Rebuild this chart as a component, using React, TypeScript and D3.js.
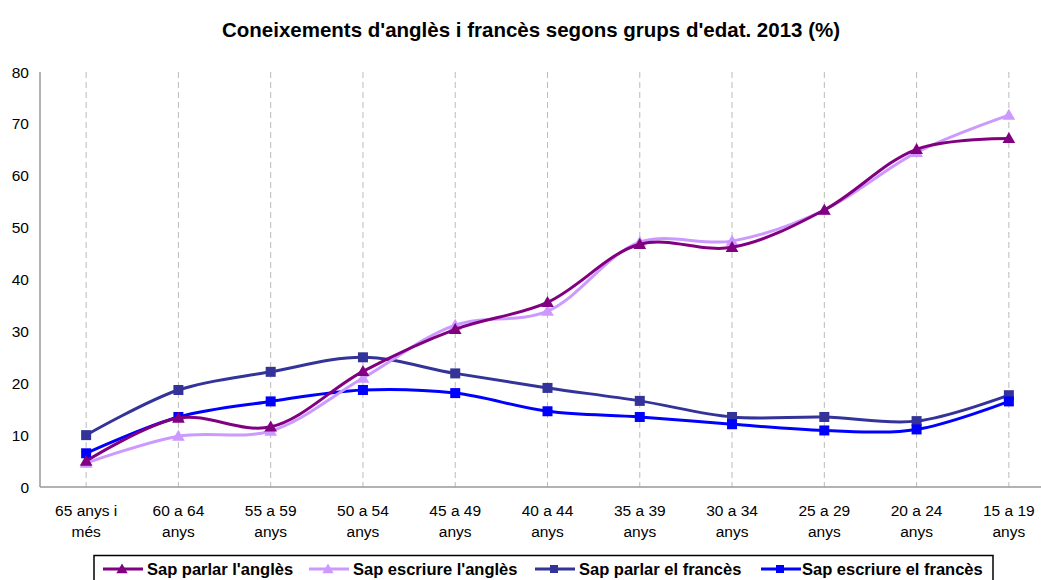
import React from "react";
import * as d3 from "d3";

const categories: string[][] = [
  ["65 anys i", "més"],
  ["60 a 64", "anys"],
  ["55 a 59", "anys"],
  ["50 a 54", "anys"],
  ["45 a 49", "anys"],
  ["40 a 44", "anys"],
  ["35 a 39", "anys"],
  ["30 a 34", "anys"],
  ["25 a 29", "anys"],
  ["20 a 24", "anys"],
  ["15 a 19", "anys"],
];

const parlarAngles = [5.0, 13.3, 11.6, 22.3, 30.4, 35.6, 46.8, 46.2, 53.4, 65.1, 67.2];
const escriureAngles = [4.6, 9.8, 10.8, 21.0, 31.2, 33.9, 47.2, 47.4, 53.4, 64.5, 71.7];
const parlarFrances = [10.0, 18.7, 22.2, 25.0, 21.9, 19.1, 16.6, 13.5, 13.5, 12.7, 17.7];
const escriureFrances = [6.5, 13.5, 16.5, 18.7, 18.1, 14.6, 13.5, 12.1, 10.9, 11.1, 16.5];

const yTicks = [0, 10, 20, 30, 40, 50, 60, 70, 80];

const seriesNames = [
  "Sap parlar l'anglès",
  "Sap escriure l'anglès",
  "Sap parlar el francès",
  "Sap escriure el francès",
];

const title = "Coneixements d'anglès i francès segons grups d'edat. 2013 (%)";

export default function App() {
  const W = 1041;
  const H = 580;
  const left = 40;
  const right = 1055;
  const top = 72;
  const bottom = 487;

  const x = d3
    .scaleBand<number>()
    .domain(categories.map((_, i) => i))
    .range([left, right])
    .padding(0);
  const cx = (i: number) => (x(i) as number) + x.bandwidth() / 2;
  const y = d3.scaleLinear().domain([0, 80]).range([bottom, top]);

  const series = [
    { name: seriesNames[0], values: parlarAngles, color: "#800080", marker: "tri", lx: 103, tx: 147 },
    { name: seriesNames[1], values: escriureAngles, color: "#CC99FF", marker: "tri", lx: 309, tx: 353 },
    { name: seriesNames[2], values: parlarFrances, color: "#333399", marker: "sq", lx: 535, tx: 579 },
    { name: seriesNames[3], values: escriureFrances, color: "#0000FF", marker: "sq", lx: 761, tx: 802 },
  ];

  const line = d3
    .line<number>()
    .x((_, i) => cx(i))
    .y((d) => y(d))
    .curve(d3.curveCatmullRom.alpha(0.5));

  const marker = (type: string, color: string, px: number, py: number, key: any, s = 1) =>
    type === "tri" ? (
      <path key={key} d={d3.symbol().type(d3.symbolTriangle).size(70 * s)() as string} transform={`translate(${px},${py + 1})`} fill={color} />
    ) : (
      <rect key={key} x={px - 5 * s} y={py - 5 * s} width={10 * s} height={10 * s} fill={color} />
    );

  const drawOrder = [2, 3, 1, 0];

  return (
    <svg width={W} height={H} style={{ display: "block", position: "absolute", left: 0, top: 0 }} fontFamily="Arial, 'Liberation Sans', sans-serif">
      <rect width={W} height={H} fill="#fff" />
      <text x={531} y={37} textAnchor="middle" fontSize={20.5} fontWeight="bold" fill="#000">
        {title}
      </text>
      {categories.map((_, i) => (
        <line key={"g" + i} x1={cx(i)} x2={cx(i)} y1={top} y2={bottom} stroke="#BBBBBB" strokeWidth={1} strokeDasharray="6,4" />
      ))}
      <line x1={left} x2={left} y1={top} y2={bottom} stroke="#999" strokeWidth={1.5} />
      <line x1={left} x2={W} y1={bottom} y2={bottom} stroke="#999" strokeWidth={1.5} />
      {yTicks.map((t) => (
        <text key={"y" + t} x={29} y={y(t) + 5.5} textAnchor="end" fontSize={15.5} fill="#000">
          {t}
        </text>
      ))}
      {categories.map((c, i) => (
        <text key={"x" + i} x={cx(i)} textAnchor="middle" fontSize={15.5} fill="#000">
          <tspan x={cx(i)} y={516}>{c[0]}</tspan>
          <tspan x={cx(i)} y={537}>{c[1]}</tspan>
        </text>
      ))}
      {drawOrder.map((k) => {
        const s = series[k];
        return (
          <g key={"s" + k}>
            <path d={line(s.values) as string} fill="none" stroke={s.color} strokeWidth={3} />
            {s.values.map((v, i) => marker(s.marker, s.color, cx(i), y(v), i))}
          </g>
        );
      })}
      <rect x={94} y={555.5} width={899} height={30} fill="#fff" stroke="#000" strokeWidth={1.5} />
      {series.map((s, k) => (
        <g key={"l" + k}>
          <line x1={s.lx} x2={s.lx + 40} y1={569} y2={569} stroke={s.color} strokeWidth={3} />
          {marker(s.marker, s.color, s.lx + 19, 569, "m", 0.8)}
          <text x={s.tx} y={575} fontSize={16.5} fontWeight="bold" fill="#000">
            {s.name}
          </text>
        </g>
      ))}
    </svg>
  );
}
